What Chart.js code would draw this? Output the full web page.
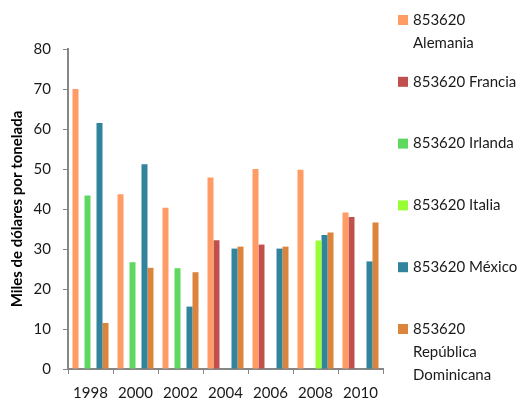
<!DOCTYPE html>
<html>
<head>
<meta charset="utf-8">
<script src="https://cdn.jsdelivr.net/npm/chart.js@4/dist/chart.umd.min.js"></script>
<style>
  html, body { margin: 0; padding: 0; background: #fff; }
  #wrap { width: 529px; height: 404px; position: relative; }
</style>
</head>
<body>
<div id="wrap"><canvas id="c" width="529" height="404"></canvas></div>
<script>
// Years shown on the category axis
const years = ['1998', '2000', '2002', '2004', '2006', '2008', '2010'];

// Price per series, thousands of dollars per tonne (null = no data)
const alemania  = [70.0, 43.7, 40.3, 47.9, 50.0, 49.8, 39.1];
const francia   = [null, null, null, 32.2, 31.1, null, 38.0];
const irlanda   = [43.4, 26.7, 25.2, null, null, null, null];
const italia    = [null, null, null, null, null, 32.1, null];
const mexico    = [61.5, 51.2, 15.6, 30.1, 30.1, 33.5, 26.9];
const repDom    = [11.5, 25.3, 24.2, 30.6, 30.6, 34.1, 36.6];

// Legend text, one entry per line
const seriesLabels = [
  ['853620', 'Alemania'],
  ['853620 Francia'],
  ['853620 Irlanda'],
  ['853620 Italia'],
  ['853620 México'],
  ['853620', 'República', 'Dominicana']
];
const seriesValues = [alemania, francia, irlanda, italia, mexico, repDom];
const seriesColors = ['#ff9c66', '#c0504d', '#5fd85f', '#99ff33', '#31849b', '#dd843c'];

const yTicks = [0, 10, 20, 30, 40, 50, 60, 70, 80];
const axisTitle = 'Miles de dólares por tonelada';

const FONT = 'Lato, "Liberation Sans", sans-serif';
const AXIS_COLOR = '#868686';

// Legend drawn at the right side of the canvas, one block per series
const sideLegend = {
  id: 'sideLegend',
  afterDraw(chart) {
    const ctx = chart.ctx;
    ctx.save();
    ctx.font = '15px ' + FONT;
    ctx.textBaseline = 'middle';
    ctx.textAlign = 'left';
    seriesLabels.forEach((lines, i) => {
      const y = 20 + i * 61.8;
      ctx.fillStyle = seriesColors[i];
      ctx.fillRect(398, y - 5, 10, 10);
      ctx.fillStyle = '#1a1a1a';
      lines.forEach((t, j) => ctx.fillText(t, 413, y + j * 23));
    });
    ctx.restore();
  }
};

new Chart(document.getElementById('c'), {
  type: 'bar',
  data: {
    labels: years,
    datasets: seriesValues.map((v, i) => ({
      label: seriesLabels[i].join(' '),
      data: v,
      backgroundColor: seriesColors[i],
      borderWidth: 0,
      categoryPercentage: 0.8,
      barPercentage: 1.0
    }))
  },
  options: {
    responsive: false,
    animation: false,
    layout: { padding: { left: 0, right: 146, top: 49, bottom: 0 } },
    plugins: { legend: { display: false }, tooltip: { enabled: false } },
    scales: {
      x: {
        grid: { drawOnChartArea: false, drawTicks: true, tickLength: 5, color: AXIS_COLOR, offset: true },
        border: { color: AXIS_COLOR, width: 2 },
        ticks: { color: '#1a1a1a', font: { family: FONT, size: 15 }, padding: 10, maxRotation: 0 },
        afterFit(s) { s.height = 35; }
      },
      y: {
        min: 0, max: 80,
        afterBuildTicks(s) { s.ticks = yTicks.map(v => ({ value: v })); },
        grid: { drawOnChartArea: false, drawTicks: true, tickLength: 5, color: AXIS_COLOR },
        border: { color: AXIS_COLOR, width: 2 },
        ticks: { color: '#1a1a1a', font: { family: FONT, size: 15 }, padding: 12 },
        title: { display: true, text: axisTitle, color: '#000', font: { family: FONT, size: 15, weight: 'bold' }, padding: { top: 8, bottom: 0 } },
        afterFit(s) { s.width = 68; }
      }
    }
  },
  plugins: [sideLegend]
});
</script>
</body>
</html>
